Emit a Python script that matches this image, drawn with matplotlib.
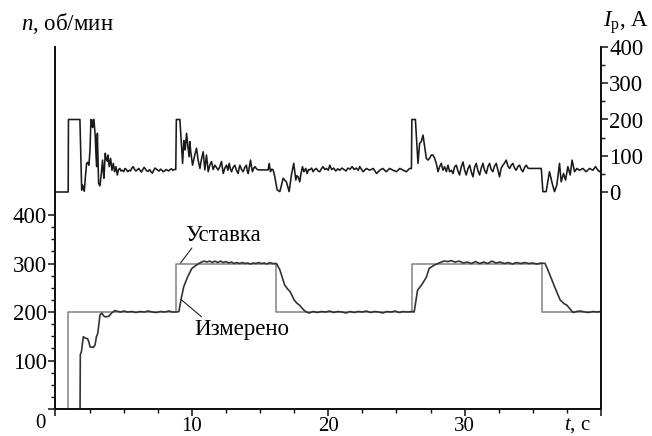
import matplotlib
matplotlib.use("Agg")
import matplotlib.pyplot as plt
from matplotlib.ticker import FixedLocator

plt.rcParams['font.family'] = ['Liberation Serif', 'DejaVu Serif']
plt.rcParams['mathtext.fontset'] = 'custom'
plt.rcParams['mathtext.rm'] = 'Liberation Serif'
plt.rcParams['mathtext.it'] = 'Liberation Serif:italic'

# ---- data ----
sp_times = [0, 0.92, 8.85, 16.2, 26.15, 35.7, 40]
sp_levels = [0, 200, 300, 200, 300, 200, 200]

meas_t = [0, 1.8, 1.82, 1.9, 2.04, 2.2, 2.35, 2.45, 2.53, 2.77, 2.9, 3.0, 3.1, 3.26, 3.4, 3.5,
          3.63, 3.9, 4.12, 4.36, 4.6, 4.8, 5.0, 5.3, 5.6, 5.9, 6.2, 6.5, 6.8, 7.1, 7.4, 7.7,
          8.0, 8.3, 8.6, 8.9, 9.05, 9.2, 9.4, 9.7, 10.0, 10.4, 10.7, 10.9, 11.1, 11.3, 11.5,
          11.7, 11.9, 12.1, 12.3, 12.5, 12.7, 12.9, 13.1, 13.3, 13.5, 13.7, 13.9, 14.1, 14.3,
          14.5, 14.7, 14.9, 15.1, 15.3, 15.5, 15.7, 15.9, 16.2, 16.45, 16.8, 17.0, 17.2, 17.5,
          17.7, 17.9, 18.2, 18.4, 18.6, 18.9, 19.2, 19.5, 19.8, 20.1, 20.4, 20.7, 21.0, 21.3,
          21.6, 21.9, 22.2, 22.5, 22.8, 23.1, 23.4, 23.7, 24.0, 24.3, 24.6, 24.9, 25.2, 25.5,
          25.8, 26.1, 26.3, 26.55, 26.85, 27.2, 27.4, 27.8, 28.2, 28.5, 28.8, 29.0, 29.3, 29.6,
          29.9, 30.2, 30.5, 30.8, 31.1, 31.4, 31.7, 32.0, 32.3, 32.6, 32.9, 33.2, 33.5, 33.8,
          34.1, 34.4, 34.7, 35.0, 35.3, 35.6, 35.9, 36.1, 36.4, 36.7, 37.0, 37.3, 37.5, 37.8,
          37.95, 38.2, 38.5, 38.8, 39.1, 39.4, 39.7, 40.0]
meas_n = [0, 0, 112, 118, 149, 146, 145, 138, 128, 127, 132, 149, 156, 194, 198, 193,
          190, 191, 198, 203, 201, 200, 202, 200, 201, 199, 201, 200, 202, 200, 199, 201,
          200, 202, 200, 200, 201, 225, 252, 273, 290, 298, 303, 305, 303, 305, 302,
          305, 302, 305, 302, 304, 301, 303, 300, 302, 300, 302, 300, 301, 299,
          301, 300, 302, 300, 301, 299, 302, 300, 300, 287, 256, 248, 242, 225,
          218, 214, 204, 200, 198, 201, 199, 201, 200, 202, 199, 201, 200, 198,
          201, 199, 201, 200, 202, 199, 201, 200, 198, 201, 200, 202, 199, 201,
          200, 201, 200, 245, 256, 272, 290, 297, 302, 305, 304, 306, 303, 305,
          301, 303, 300, 304, 300, 303, 300, 305, 301, 303, 300, 302, 299, 302,
          300, 302, 300, 301, 299, 301, 300, 287, 266, 245, 225, 217, 214, 204,
          199, 201, 202, 200, 199, 201, 200, 201]

cur_t = [0, 0.93, 0.95, 1.79, 1.88, 1.92, 1.98, 2.04, 2.11, 2.2, 2.28, 2.36, 2.45, 2.53, 2.6,
         2.66, 2.72, 2.77, 2.82, 2.88, 2.92, 2.97, 3.02, 3.07, 3.12, 3.16, 3.26, 3.36, 3.45,
         3.5, 3.55, 3.65, 3.7, 3.75, 3.8, 3.85, 3.94, 4.04, 4.14, 4.24, 4.33, 4.43, 4.53, 4.62,
         4.72, 4.8, 4.9, 5.0, 5.1, 5.2, 5.3, 5.4, 5.5, 5.6, 5.7, 5.8, 5.9, 6.0, 6.1, 6.2, 6.3,
         6.4, 6.5, 6.6, 6.7, 6.8, 6.9, 7.0, 7.1, 7.2, 7.3, 7.4, 7.5, 7.6, 7.7, 7.8, 7.9, 8.0,
         8.1, 8.2, 8.3, 8.4, 8.5, 8.6, 8.7, 8.82, 8.86, 9.12, 9.2, 9.32, 9.41, 9.46, 9.51, 9.61,
         9.71, 9.8, 9.85, 9.92, 10.05, 10.2, 10.34, 10.45, 10.59, 10.7, 10.83, 10.95, 11.07,
         11.2, 11.32, 11.44, 11.56, 11.68, 11.8, 11.93, 12.05, 12.17, 12.3, 12.42, 12.54,
         12.64, 12.74, 12.82, 12.91, 13.03, 13.15, 13.27, 13.39, 13.46, 13.52, 13.64, 13.76,
         13.88, 14.0, 14.06, 14.13, 14.22, 14.3, 14.37, 14.44, 14.53, 14.62, 14.74, 14.86,
         15.59, 15.67, 15.76, 15.86, 15.96, 16.08, 16.25, 16.45, 16.58, 16.69, 16.8, 16.93,
         17.13, 17.3, 17.47, 17.55, 17.62, 17.7, 17.79, 17.91, 18.0, 18.11, 18.21, 18.35,
         18.45, 18.55, 18.65, 18.78, 18.89, 19.0, 19.13, 19.25, 19.38, 19.5, 19.62, 19.75,
         19.87, 20.0, 20.11, 20.25, 20.4, 20.55, 20.7, 20.85, 21.0, 21.15, 21.3, 21.45, 21.6,
         21.75, 21.9, 22.05, 22.2, 22.31, 22.55, 22.8, 23.04, 23.3, 23.54, 23.78, 24.0, 24.25,
         24.5, 24.75, 25.0, 25.25, 25.5, 25.73, 25.97, 26.1, 26.13, 26.39, 26.58, 26.7, 26.82,
         26.95, 27.07, 27.19, 27.31, 27.43, 27.56, 27.68, 27.8, 27.92, 28.05, 28.17, 28.29,
         28.41, 28.53, 28.66, 28.78, 28.9, 29.03, 29.15, 29.27, 29.39, 29.51, 29.63, 29.76,
         29.88, 30.0, 30.12, 30.25, 30.37, 30.49, 30.61, 30.73, 30.85, 30.98, 31.1, 31.22,
         31.34, 31.46, 31.59, 31.71, 31.83, 31.95, 32.07, 32.2, 32.32, 32.44, 32.56, 32.68,
         32.81, 32.93, 33.05, 33.17, 33.3, 33.42, 33.54, 33.66, 33.78, 33.9, 34.03, 34.15,
         34.27, 34.4, 34.52, 34.64, 34.76, 35.62, 35.74, 35.98, 36.22, 36.42, 36.59, 36.76,
         36.96, 37.08, 37.25, 37.4, 37.57, 37.74, 37.88, 38.06, 38.23, 38.42, 38.67, 38.91,
         39.16, 39.4, 39.6, 39.77, 39.89, 40.0]
cur_i = [0, 0, 200, 200, 60, 5, 20, 12, 2, 45, 79, 82, 74, 116, 200,
         195, 178, 200, 200, 172, 150, 100, 70, 162, 90, 24, 17, 51, 88,
         60, 38, 107, 90, 95, 85, 102, 70, 93, 60, 79, 56, 70, 47, 62,
         65, 58, 60, 56, 65, 62, 56, 60, 58, 66, 70, 62, 58, 61, 65, 60, 55,
         62, 68, 63, 58, 57, 62, 56, 52, 60, 66, 63, 60, 58, 63, 60, 56, 58,
         62, 60, 58, 62, 64, 60, 62, 62, 200, 200, 150, 79, 142, 125, 116, 162,
         125, 97, 139, 110, 74, 100, 121, 90, 65, 90, 111, 61, 102,
         56, 75, 84, 62, 74, 68, 61, 70, 84, 51, 66, 74,
         60, 79, 64, 56, 68, 74, 60, 51, 65, 74, 62, 56,
         68, 74, 58, 51, 70, 88, 70, 56, 65, 70, 64, 61,
         61, 79, 56, 63, 61, 42, 6, 1, 20, 38, 33, 28,
         1, 47, 79, 55, 33, 45, 42, 28, 50, 70, 56, 65,
         51, 62, 61, 66, 56, 62, 65, 58, 56, 64, 70, 62,
         65, 60, 74, 62, 66, 58, 64, 60, 66, 62, 58, 66, 63,
         70, 62, 66, 60, 70, 56, 65, 60, 65, 51, 60, 65, 56,
         65, 60, 56, 65, 60, 56, 65, 65, 200, 200, 79, 134, 139,
         157, 125, 93, 88, 93, 102, 102, 93, 79, 56, 70, 79,
         60, 70, 56, 74, 56, 60, 51, 70, 74, 58, 47, 70,
         83, 60, 47, 65, 74, 55, 42, 68, 79, 58, 47, 66,
         79, 60, 51, 70, 79, 62, 56, 72, 79, 60, 42, 66,
         74, 80, 88, 72, 65, 74, 79, 66, 60, 70, 74, 62,
         56, 68, 74, 66, 65, 65, 1, 1, 56, 24, 1, 19,
         79, 28, 51, 33, 70, 47, 88, 56, 65, 60, 65, 56,
         65, 60, 70, 60, 56, 60]

n_ticks = [0, 100, 200, 300, 400]
n_tick_labels = ['', '100', '200', '300', '400']
i_ticks = [0, 100, 200, 300, 400]
t_ticks = [0, 10, 20, 30, 40]
t_tick_labels = ['', '10', '20', '30', '']

FS = 16.5
FSX = 15

fig = plt.figure(figsize=(6.52, 4.36), dpi=100)
W, H = 652, 436
x0, x1, y_top, y_bot = 55.5, 601, 47, 409
ax = fig.add_axes([x0 / W, (H - y_bot) / H, (x1 - x0) / W, (y_bot - y_top) / H])
ax2 = ax.twinx()

n_top = 400 * (y_bot - y_top) / (409 - 215)
ax.set_ylim(0, n_top)
ax.set_xlim(0, 40)
i_bot = -(y_bot - 192) * 400 / (192 - y_top)
ax2.set_ylim(i_bot, 400)

ax.plot(sp_times, sp_levels, drawstyle='steps-post', color='#8c8c8c', lw=1.2, zorder=2)
ax.plot(meas_t, meas_n, color='#333333', lw=1.2, zorder=3)
ax2.plot(cur_t, cur_i, color='#1a1a1a', lw=1.15)

for a in (ax, ax2):
    a.spines['top'].set_visible(False)
    for s in ('left', 'right', 'bottom'):
        a.spines[s].set_linewidth(1.3)
        a.spines[s].set_color('#111111')
    a.patch.set_visible(False)

ax.set_yticks(n_ticks)
ax.set_yticklabels(n_tick_labels)
ax.yaxis.set_minor_locator(FixedLocator([v for v in range(25, 400, 25) if v % 100]))
ax.set_xticks(t_ticks)
ax.set_xticklabels(t_tick_labels)
ax.xaxis.set_minor_locator(FixedLocator([v * 2.5 for v in range(1, 16) if v % 4]))
ax.tick_params(axis='both', which='major', direction='out', length=5, width=1.1,
               color='#111111')
ax.tick_params(axis='both', which='minor', direction='out', length=3, width=1.0, color='#111111')
ax.tick_params(axis='y', pad=1, labelsize=FS)
ax.tick_params(axis='x', pad=0.5, labelsize=FSX)

ax2.set_yticks(i_ticks)
ax2.yaxis.set_minor_locator(FixedLocator([50, 150, 250, 350]))
ax2.tick_params(axis='y', which='major', direction='out', length=5, width=1.1,
                labelsize=FS, pad=1, color='#111111')
ax2.tick_params(axis='y', which='minor', direction='out', length=3, width=1.0, color='#111111')

# annotations
ax.annotate('', xy=(9.17, 301), xytext=(10.0, 332),
            arrowprops=dict(arrowstyle='-', color='#222222', lw=0.8, shrinkA=0, shrinkB=0))
ax.text(12.3, 357, 'Уставка', fontsize=FS, ha='center', va='center')
ax.annotate('', xy=(9.24, 225), xytext=(10.71, 190),
            arrowprops=dict(arrowstyle='-', color='#222222', lw=0.8, shrinkA=0, shrinkB=0))
ax.text(13.66, 163, 'Измерено', fontsize=FS, ha='center', va='center')

fig.text(21 / W, 1 - 23 / H, '$n$, об/мин', fontsize=FS, ha='left', va='center')
fig.text(603 / W, 1 - 23 / H, '$I_{\\rm р}$, А', fontsize=FS, ha='left', va='center')
fig.text(40 / W, 1 - 423 / H, '0', fontsize=FSX, ha='center', va='center')
fig.text(577 / W, 1 - 425 / H, '$t$, с', fontsize=FSX, ha='center', va='center')

fig.savefig('out.png', dpi=100)
